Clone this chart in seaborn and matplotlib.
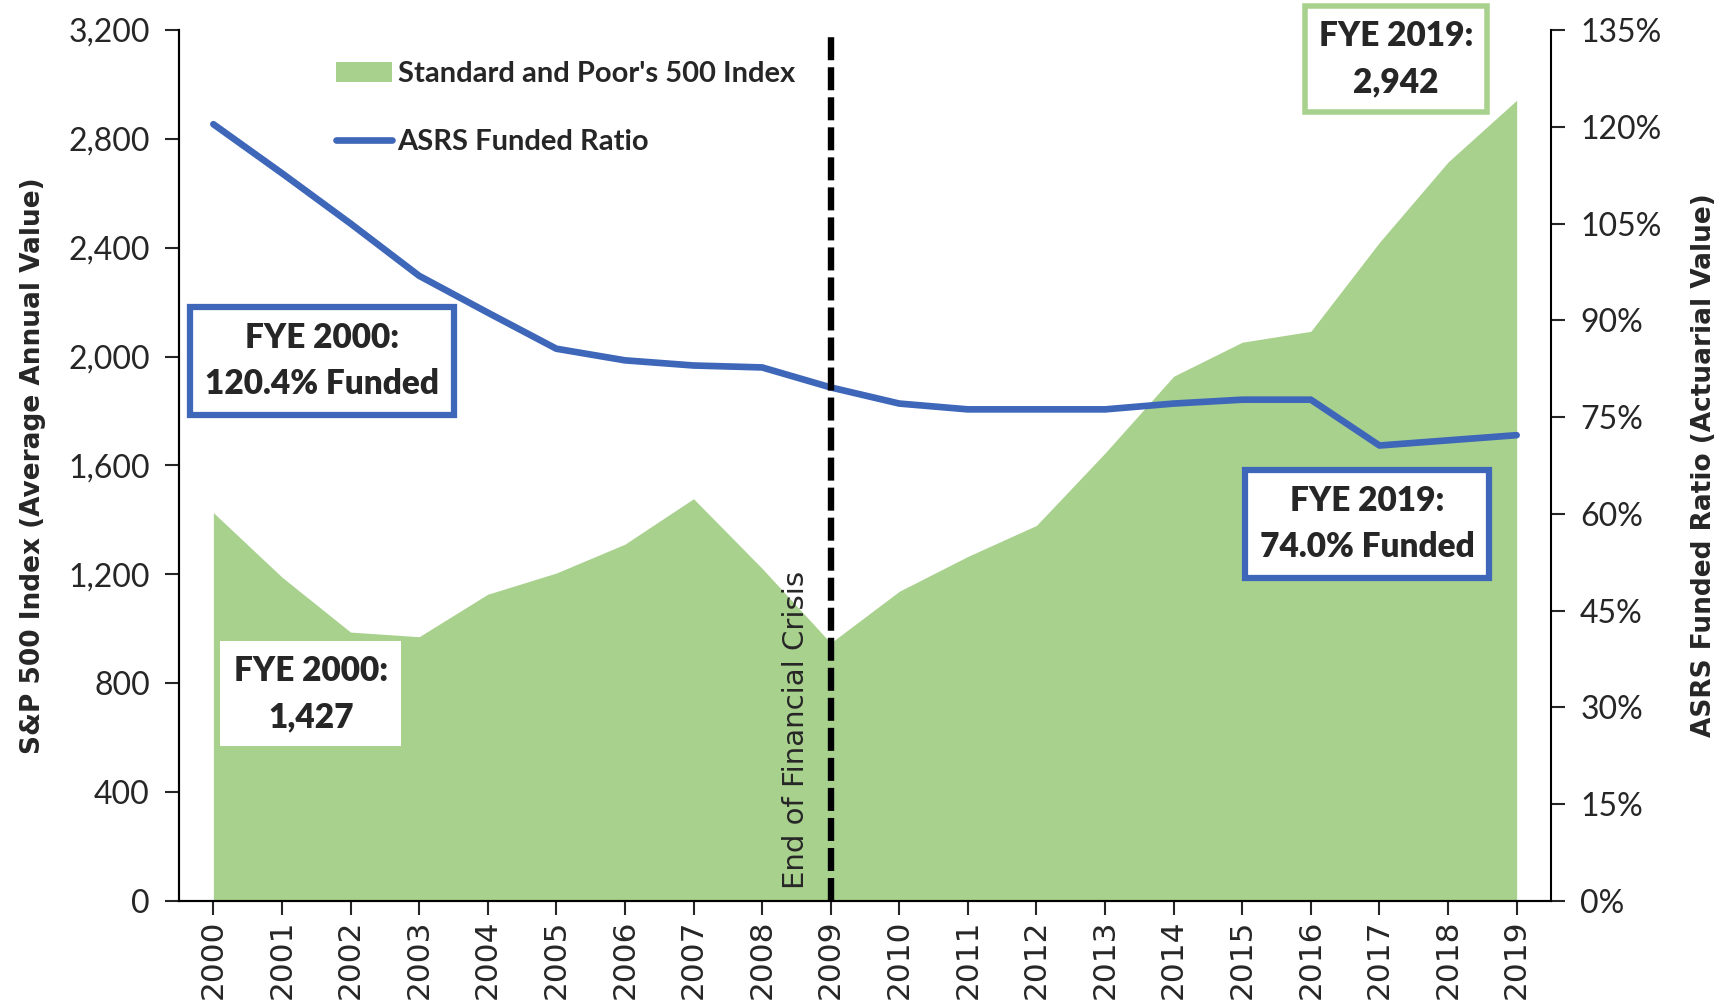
import pandas as pd
import matplotlib
matplotlib.use("Agg")
import matplotlib.pyplot as plt
from matplotlib.patches import Patch
from matplotlib.lines import Line2D
from matplotlib.ticker import FuncFormatter, MultipleLocator
import seaborn as sns

# values
years = [str(y) for y in range(2000, 2020)]
sp500 = [1427, 1190, 988, 971, 1127, 1205, 1311, 1478, 1222, 948,
         1138, 1266, 1380, 1646, 1928, 2053, 2093, 2420, 2715, 2942]
funded = [120.4, 112.8, 105.0, 96.9, 91.2, 85.6, 83.8, 83.0, 82.7, 79.6,
          77.1, 76.2, 76.2, 76.2, 77.1, 77.7, 77.7, 70.6, 71.4, 72.2]

df = pd.DataFrame({"year": years, "sp500": sp500, "funded": funded})
df["pos"] = range(len(df))

green = "#A9D18E"
blue = "#3F67B9"

sns.set_style("ticks")
plt.rcParams["font.family"] = ["Lato", "DejaVu Sans"]

fig = plt.figure(figsize=(17.25, 10), dpi=100)
ax = fig.add_axes([0.1038, 0.099, 0.7953, 0.871])
ax2 = ax.twinx()

# S&P 500 area
ax.fill_between(df["pos"], 0, df["sp500"], color=green, lw=0, zorder=1)
ax.set_xlim(-0.5, 19.5)
ax.set_ylim(0, 3200)
ax.yaxis.set_major_locator(MultipleLocator(400))
ax.yaxis.set_major_formatter(FuncFormatter(lambda v, p: f"{v:,.0f}"))
ax.set_xticks(df["pos"])
ax.set_xticklabels(df["year"], rotation=90, family="DejaVu Sans", fontsize=22.5)
ax.tick_params(axis="y", labelsize=23, length=10, width=1.5, pad=11)
ax.tick_params(axis="x", length=10, width=1.5, pad=3)
ax.set_ylabel("S&P 500 Index (Average Annual Value)", family="DejaVu Sans",
              fontweight="bold", fontsize=19)
ax.yaxis.set_label_coords(-0.097, 0.5)

# funded ratio line
sns.lineplot(data=df, x="pos", y="funded", ax=ax2, color=blue, lw=4.8,
             legend=False, zorder=3)
ax2.set_ylim(0, 135)
ax2.yaxis.set_major_locator(MultipleLocator(15))
ax2.yaxis.set_major_formatter(FuncFormatter(lambda v, p: f"{v:.0f}%"))
ax2.tick_params(axis="y", labelsize=23, length=10, width=1.5, pad=11)
ax2.set_xlabel("")
ax2.set_ylabel("ASRS Funded Ratio (Actuarial Value)", family="DejaVu Sans",
               fontweight="bold", fontsize=19, rotation=90)
ax2.yaxis.set_label_coords(1.102, 0.5)

for a in (ax, ax2):
    a.spines["top"].set_visible(False)
    for s in ("left", "right", "bottom"):
        a.spines[s].set_linewidth(1.5)
        a.spines[s].set_color("black")
ax.spines["right"].set_visible(False)

# end of financial crisis marker
ax2.axvline(9, ymax=0.995, color="black", lw=4.6, ls=(0, (3.6, 1.1)), zorder=4)
ax2.text(8.5, 0.014, "End of Financial Crisis", transform=ax2.get_xaxis_transform(),
         rotation=90, ha="center", va="bottom", family="DejaVu Sans", fontsize=21,
         zorder=5)

# callout boxes
trans = ax2.get_xaxis_transform()
box_kw = dict(transform=trans, ha="center", va="center", fontsize=24,
              fontweight="heavy", linespacing=1.55, zorder=6)
ax2.text(1.58, 0.620, "FYE 2000:\n120.4% Funded",
         bbox=dict(boxstyle="square,pad=0.45", fc="white", ec=blue, lw=4.5), **box_kw)
ax2.text(1.42, 0.238, "FYE 2000:\n1,427",
         bbox=dict(boxstyle="square,pad=0.4", fc="white", ec="none"), **box_kw)
ax2.text(17.24, 0.967, "FYE 2019:\n2,942",
         bbox=dict(boxstyle="square,pad=0.42", fc="white", ec=green, lw=4), **box_kw)
ax2.text(16.82, 0.433, "FYE 2019:\n74.0% Funded",
         bbox=dict(boxstyle="square,pad=0.45", fc="white", ec=blue, lw=4.5), **box_kw)

# legend
handles = [Patch(facecolor=green, edgecolor="none"),
           Line2D([], [], color=blue, lw=4.8, solid_capstyle="round")]
labels = ["Standard and Poor's 500 Index", "ASRS Funded Ratio"]
leg = fig.legend(handles, labels, loc="upper left", bbox_to_anchor=(0.195, 0.939),
                 frameon=False, handlelength=1.9, handletextpad=0.2,
                 labelspacing=1.45, borderpad=0, borderaxespad=0,
                 prop={"weight": "bold", "size": 21})

fig.savefig("out.png", dpi=100)
